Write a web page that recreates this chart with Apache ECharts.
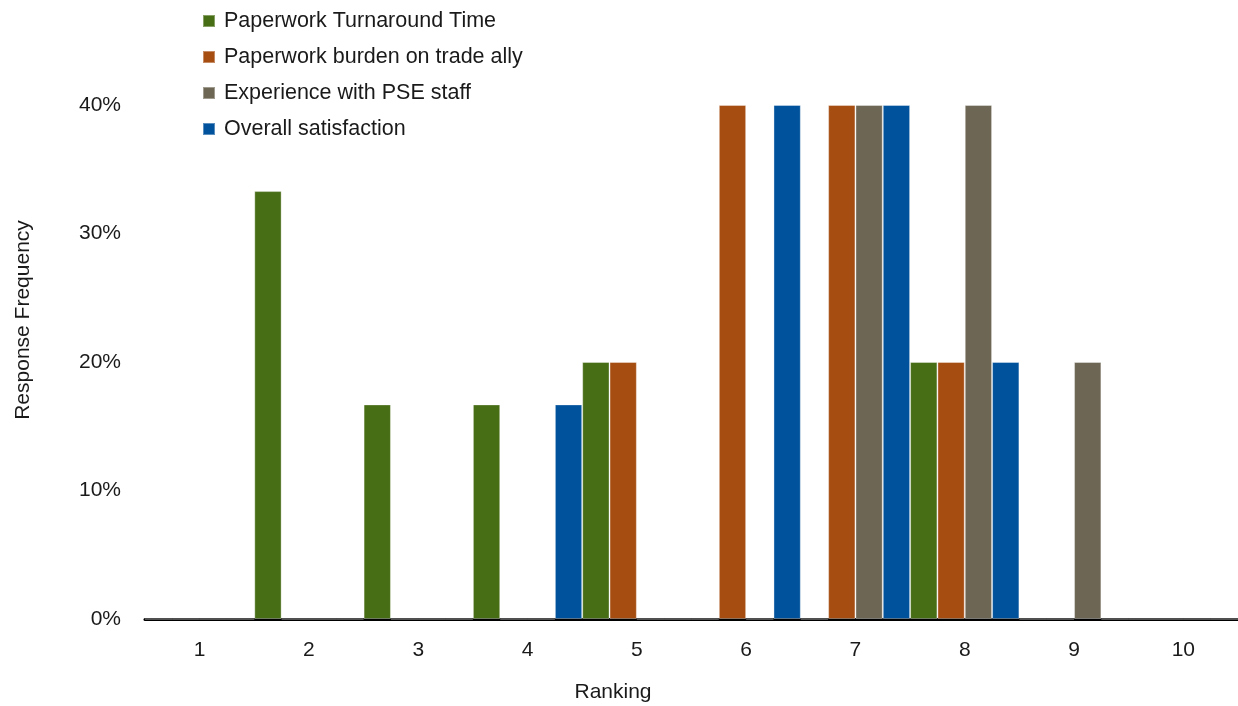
<!DOCTYPE html>
<html>
<head>
<meta charset="utf-8">
<script src="https://cdn.jsdelivr.net/npm/echarts@6/dist/echarts.min.js"></script>
<style>
  html, body { margin: 0; padding: 0; background: #fff; }
  #chart { width: 1238px; height: 706px; }
</style>
</head>
<body>
<div id="chart"></div>
<script>
// Ranking categories (1 = lowest, 10 = highest)
const rankings = ['1', '2', '3', '4', '5', '6', '7', '8', '9', '10'];

// Share of responses per ranking, in percent
const turnaroundTime = [0, 33.3, 16.7, 16.7, 20, 0, 0, 20, 0, 0];
const paperworkBurden = [0, 0, 0, 0, 20, 40, 40, 20, 0, 0];
const staffExperience = [0, 0, 0, 0, 0, 0, 40, 40, 20, 0];
const overallSatisfaction = [0, 0, 0, 16.7, 0, 40, 40, 20, 0, 0];

const seriesNames = [
  'Paperwork Turnaround Time',
  'Paperwork burden on trade ally',
  'Experience with PSE staff',
  'Overall satisfaction'
];
const seriesColors = ['#476d15', '#a64e12', '#6e6654', '#00529c'];
const seriesData = [turnaroundTime, paperworkBurden, staffExperience, overallSatisfaction];

const FONT = '"Liberation Sans", Arial, sans-serif';
const TEXT = '#1a1a1a';

const chart = echarts.init(document.getElementById('chart'), null, { renderer: 'canvas' });

chart.setOption({
  animation: false,
  backgroundColor: '#ffffff',
  textStyle: { fontFamily: FONT },
  legend: {
    orient: 'vertical',
    left: 202,
    top: 9,
    padding: 0,
    itemWidth: 12,
    itemHeight: 12,
    itemGap: 12,
    icon: 'rect',
    textStyle: {
      fontFamily: FONT,
      fontSize: 21.5,
      color: TEXT,
      lineHeight: 24,
      padding: [0, 0, 0, 4]
    },
    data: seriesNames
  },
  grid: {
    left: 145,
    right: 0,
    top: 105,
    bottom: 87,
    containLabel: false,
    outerBoundsMode: 'none'
  },
  xAxis: {
    type: 'category',
    data: rankings,
    boundaryGap: true,
    name: 'Ranking',
    nameLocation: 'middle',
    nameGap: 63,
    nameTextStyle: {
      fontFamily: FONT,
      fontSize: 21,
      color: TEXT,
      padding: [0, 157, 0, 0]
    },
    axisLine: { show: true, lineStyle: { color: '#000', width: 3 } },
    axisTick: { show: false },
    axisLabel: { fontFamily: FONT, fontSize: 21, color: TEXT, margin: 21 },
    splitLine: { show: false }
  },
  yAxis: {
    type: 'value',
    min: 0,
    max: 40,
    interval: 10,
    name: 'Response Frequency',
    nameLocation: 'middle',
    nameGap: 111,
    nameTextStyle: {
      fontFamily: FONT,
      fontSize: 21,
      color: TEXT,
      padding: [0, 0, 0, 84]
    },
    axisLine: { show: false },
    axisTick: { show: false },
    splitLine: { show: false },
    axisLabel: {
      fontFamily: FONT,
      fontSize: 21,
      color: TEXT,
      margin: 24,
      formatter: '{value}%'
    }
  },
  series: seriesNames.map((name, i) => ({
    name: name,
    type: 'bar',
    data: seriesData[i],
    barGap: '0%',
    barCategoryGap: '0%',
    itemStyle: {
      color: seriesColors[i],
      borderColor: 'rgba(255,255,255,0.35)',
      borderWidth: 1
    }
  }))
});
</script>
</body>
</html>
